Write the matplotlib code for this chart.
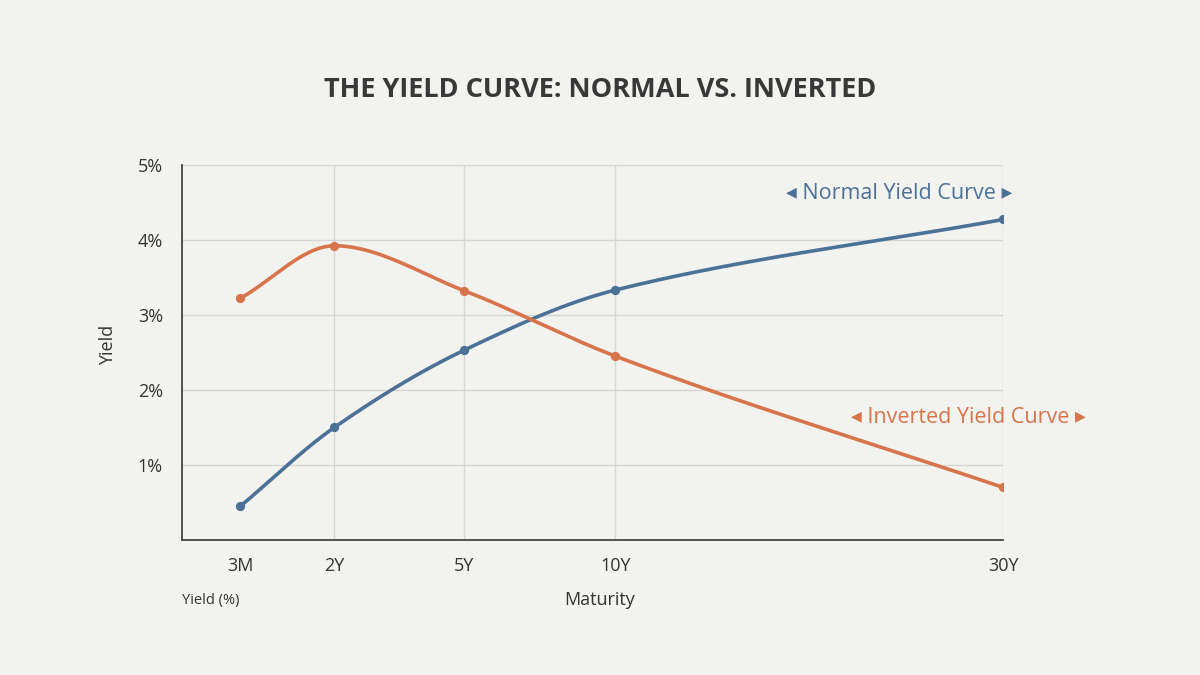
import numpy as np
import matplotlib.pyplot as plt

maturities = ['3M', '2Y', '5Y', '10Y', '30Y']
x_pos = [0.58, 1.52, 2.82, 4.33, 8.21]
normal = [0.45, 1.50, 2.53, 3.33, 4.27]
inverted = [3.22, 3.92, 3.32, 2.45, 0.70]

BG = '#f2f2ef'
BLUE = '#4c7197'
ORANGE = '#d8744c'


def smooth(x, y, n=200):
    # monotone cubic hermite, only for drawing a smooth line through the points
    x = np.asarray(x, float)
    y = np.asarray(y, float)
    h = np.diff(x)
    d = np.diff(y) / h
    m = np.zeros_like(y)
    m[0], m[-1] = d[0], d[-1]
    for i in range(1, len(y) - 1):
        if d[i - 1] * d[i] > 0:
            m[i] = 2 / (1 / d[i - 1] + 1 / d[i])
    xs, ys = [], []
    for i in range(len(h)):
        t = np.linspace(0, 1, n)
        h00 = 2 * t**3 - 3 * t**2 + 1
        h10 = t**3 - 2 * t**2 + t
        h01 = -2 * t**3 + 3 * t**2
        h11 = t**3 - t**2
        xs.append(x[i] + t * h[i])
        ys.append(h00 * y[i] + h10 * h[i] * m[i] + h01 * y[i + 1] + h11 * h[i] * m[i + 1])
    return np.concatenate(xs), np.concatenate(ys)


plt.rcParams['font.family'] = ['Open Sans', 'DejaVu Sans']

fig = plt.figure(figsize=(12, 6.75), dpi=100, facecolor=BG)
ax = fig.add_axes([0.152, 0.2, 0.684, 0.556], facecolor=BG)

for series, color in [(normal, BLUE), (inverted, ORANGE)]:
    sx, sy = smooth(x_pos, series)
    ax.plot(sx, sy, color=color, lw=2.6, solid_capstyle='round', zorder=3)
    ax.scatter(x_pos, series, color=color, s=32, zorder=4)

ax.set_xlim(0, x_pos[-1])
ax.set_ylim(0, 5)
ax.set_yticks([1, 2, 3, 4, 5])
ax.set_yticklabels(['1%', '2%', '3%', '4%', '5%'])
ax.set_xticks(x_pos)
ax.set_xticklabels(maturities)
ax.tick_params(length=0, labelsize=13, colors='#333333', pad=12)
ax.tick_params(axis='y', pad=14)
ax.grid(axis='y', color='#d6d6d3', lw=1)
for xv in x_pos[1:]:
    ax.axvline(xv, color='#d6d6d3', lw=1, zorder=0)
for s in ['top', 'right']:
    ax.spines[s].set_visible(False)
for s in ['left', 'bottom']:
    ax.spines[s].set_color('#444444')
    ax.spines[s].set_linewidth(1.3)

fig.text(0.5, 0.866, 'THE YIELD CURVE: NORMAL VS. INVERTED', ha='center', va='center',
         fontsize=19.5, fontweight='bold', color='#383838')
fig.text(0.09, 0.489, 'Yield', rotation=90, ha='center', va='center', fontsize=13, color='#333333')
fig.text(0.5, 0.111, 'Maturity', ha='center', va='center', fontsize=13, color='#333333')
fig.text(0.152, 0.111, 'Yield (%)', ha='left', va='center', fontsize=10.5, color='#333333')

fig.text(0.749, 0.714, '◂ Normal Yield Curve ▸', ha='center', va='center', fontsize=15.5, color=BLUE)
fig.text(0.807, 0.382, '◂ Inverted Yield Curve ▸', ha='center', va='center', fontsize=15.5, color=ORANGE)

fig.savefig('out.png', dpi=100, facecolor=BG)
